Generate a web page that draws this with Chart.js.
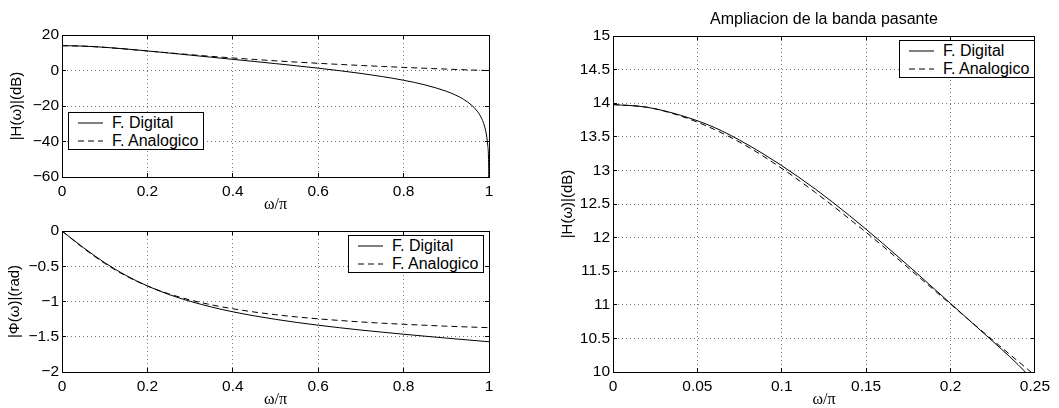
<!DOCTYPE html>
<html><head><meta charset="utf-8">
<script src="https://cdn.jsdelivr.net/npm/chart.js@4.4.0/dist/chart.umd.min.js"></script>
<style>
html,body{margin:0;padding:0;background:#fff;}
body{width:1059px;height:408px;position:relative;overflow:hidden;font-family:'Liberation Sans',Arial,sans-serif;}
canvas{position:absolute;}
.legend{position:absolute;background:#fff;border:1px solid #000;box-sizing:border-box;width:136px;height:38px;font-size:16px;color:#000;}
.legend .row{position:absolute;left:0;width:100%;height:18px;}
.legend svg{position:absolute;left:9px;}
.legend span{position:absolute;left:43px;top:0;line-height:18px;white-space:nowrap;}
</style></head>
<body>
<canvas id="c1" width="530" height="213" style="left:0;top:0;width:530px;height:213px"></canvas>
<canvas id="c2" width="530" height="195" style="left:0;top:213px;width:530px;height:195px"></canvas>
<canvas id="c3" width="529" height="408" style="left:530px;top:0;width:529px;height:408px"></canvas>
<div id="lg1" class="legend" style="left:68px;top:112px"></div>
<div id="lg2" class="legend" style="left:348px;top:235px"></div>
<div id="lg3" class="legend" style="left:899px;top:40px"></div>
<script>
// ---------- data ----------
const seriesNames = ['F. Digital', 'F. Analogico'];

// normalised frequency (omega / pi), full band
const omega = [0,0.05,0.1,0.15,0.2,0.25,0.3,0.35,0.4,0.45,0.5,0.55,0.6,0.65,0.7,0.75,0.8,0.85,0.9,0.95,1];
// denser grid used for the digital magnitude (it plunges near omega = pi)
const omegaDigMag = [0,0.05,0.1,0.15,0.2,0.25,0.3,0.35,0.4,0.45,0.5,0.55,0.6,0.65,0.7,0.75,0.8,0.85,0.9,0.92,0.94,0.96,0.97,0.98,0.99,0.995,0.997,0.999,1];
const digMagDB = [13.98,13.74,13.07,12.13,11.02,9.86,8.67,7.48,6.29,5.09,3.88,2.62,1.31,-0.10,-1.65,-3.41,-5.49,-8.10,-11.69,-13.65,-16.17,-19.70,-22.21,-25.73,-31.75,-37.77,-42.2,-51.75,-80];
const anaMagDB = [13.98,13.72,13.03,12.07,11.01,9.95,8.92,7.96,7.06,6.23,5.46,4.73,4.06,3.43,2.84,2.29,1.76,1.26,0.79,0.35,-0.08];

const digPhase = [0,-0.235,-0.449,-0.631,-0.779,-0.900,-0.997,-1.078,-1.146,-1.203,-1.253,-1.297,-1.336,-1.372,-1.405,-1.435,-1.464,-1.492,-1.519,-1.545,-1.571];
const anaPhase = [0,-0.243,-0.459,-0.638,-0.780,-0.891,-0.978,-1.047,-1.103,-1.149,-1.187,-1.219,-1.246,-1.269,-1.290,-1.308,-1.323,-1.337,-1.350,-1.361,-1.371];

// pass-band zoom
const omegaZoom = [0,0.02,0.04,0.06,0.08,0.1,0.12,0.14,0.16,0.18,0.2,0.22,0.24,0.25];
const digZoomDB = [13.98,13.94,13.82,13.64,13.38,13.07,12.72,12.33,11.91,11.47,11.02,10.57,10.11,9.85];
const anaZoomDB = [13.98,13.94,13.81,13.61,13.35,13.03,12.67,12.28,11.87,11.44,11.01,10.58,10.16,9.95];

// tick values
const xTicksFull = [0,0.2,0.4,0.6,0.8,1];
const xTicksZoom = [0,0.05,0.1,0.15,0.2,0.25];
const yTicksMag = [-60,-40,-20,0,20];
const yTicksPhase = [-2,-1.5,-1,-0.5,0];
const yTicksZoom = [10,10.5,11,11.5,12,12.5,13,13.5,14,14.5,15];

const xLabel = 'ω/π';
const yLabelMag = '|H(ω)|(dB)';
const yLabelPhase = '|Φ(ω)|(rad)';
const zoomTitle = 'Ampliacion de la banda pasante';

// ---------- helpers ----------
Chart.defaults.font.family = "'Liberation Sans', Arial, sans-serif";
Chart.defaults.color = '#000';

const pts = (xs, ys) => xs.map((x, i) => ({x: x, y: ys[i]}));
const minus = v => String(v).replace('-', '\u2212');
const GRID = '#777';

function gridColor(arr) {
  return ctx => {
    const v = ctx.tick ? ctx.tick.value : null;
    return (v === arr[0] || v === arr[arr.length - 1]) ? 'rgba(0,0,0,0)' : GRID;
  };
}

function makeScales(o) {
  return {
    x: {
      type: 'linear', position: 'bottom', min: o.xt[0], max: o.xt[o.xt.length - 1],
      afterBuildTicks: s => { s.ticks = o.xt.map(v => ({value: v})); },
      afterFit: s => { s.height = 36; },
      grid: {color: gridColor(o.xt), lineWidth: 1, drawTicks: true, tickLength: -4, tickColor: '#000', tickWidth: 1},
      border: {display: true, color: '#000', width: 1, dash: [1, 3]},
      ticks: {color: '#000', padding: 9, maxRotation: 0, autoSkip: false, font: {size: 15.5, lineHeight: 1.2}, callback: minus},
      title: {display: true, text: xLabel, color: '#000', font: {family: "'Liberation Serif', 'Times New Roman', serif", size: 16, lineHeight: 1}, padding: {top: 0, bottom: o.xtb}}
    },
    y: {
      type: 'linear', position: 'left', min: o.yt[0], max: o.yt[o.yt.length - 1],
      afterBuildTicks: s => { s.ticks = o.yt.map(v => ({value: v})); },
      afterFit: s => { s.width = o.yw; },
      grid: {color: gridColor(o.yt), lineWidth: 1, drawTicks: true, tickLength: -4, tickColor: '#000', tickWidth: 1},
      border: {display: true, color: '#000', width: 1, dash: [1, 3]},
      ticks: {color: '#000', padding: 7, autoSkip: false, font: {size: 15.5}, callback: minus},
      title: {display: true, text: o.ylabel, color: '#000', font: {size: 15, lineHeight: 1}, padding: {top: o.ytp, bottom: 0}}
    },
    xTop: {
      type: 'linear', position: 'top', min: o.xt[0], max: o.xt[o.xt.length - 1],
      afterBuildTicks: s => { s.ticks = o.xt.map(v => ({value: v})); },
      afterFit: s => { s.height = 0; },
      grid: {drawOnChartArea: false, drawTicks: true, tickLength: -4, tickColor: '#000', tickWidth: 1},
      border: {display: true, color: '#000', width: 1},
      ticks: {display: false}
    },
    yRight: {
      type: 'linear', position: 'right', min: o.yt[0], max: o.yt[o.yt.length - 1],
      afterBuildTicks: s => { s.ticks = o.yt.map(v => ({value: v})); },
      afterFit: s => { s.width = 0; },
      grid: {drawOnChartArea: false, drawTicks: true, tickLength: -4, tickColor: '#000', tickWidth: 1},
      border: {display: true, color: '#000', width: 1},
      ticks: {display: false}
    }
  };
}

function ds(label, data, dashed) {
  return {
    label: label, data: data, borderColor: '#000', backgroundColor: '#000',
    borderWidth: 1, borderDash: dashed ? [6, 4] : [], pointRadius: 0, fill: false,
    cubicInterpolationMode: 'monotone', xAxisID: 'x', yAxisID: 'y'
  };
}

function makeChart(id, datasets, o, titleOpts) {
  return new Chart(document.getElementById(id), {
    type: 'line',
    data: {datasets: datasets},
    options: {
      responsive: false, animation: false, events: [],
      layout: {padding: o.pad},
      scales: makeScales(o),
      plugins: {
        legend: {display: false}, tooltip: {enabled: false},
        title: titleOpts || {display: false}
      }
    }
  });
}

function htmlLegend(chart, elId) {
  const el = document.getElementById(elId);
  const centers = [10, 27.5];
  chart.data.datasets.forEach((d, i) => {
    const row = document.createElement('div');
    row.className = 'row';
    row.style.top = (centers[i] - 9) + 'px';
    const dash = (d.borderDash && d.borderDash.length) ? d.borderDash.join(',') : 'none';
    row.innerHTML = '<svg width="25" height="2" style="top:8px"><line x1="0" y1="1" x2="25" y2="1" stroke="#000" stroke-width="1" stroke-dasharray="' + dash + '"/></svg>';
    const sp = document.createElement('span');
    sp.textContent = d.label;
    row.appendChild(sp);
    el.appendChild(row);
  });
}

const c1 = makeChart('c1', [
  ds(seriesNames[0], pts(omegaDigMag, digMagDB), false),
  ds(seriesNames[1], pts(omega, anaMagDB), true)
], {xt: xTicksFull, yt: yTicksMag, yw: 62, ylabel: yLabelMag, ytp: 9.3, xtb: 0.5,
    pad: {top: 35, right: 41, bottom: 0, left: 0}});

const c2 = makeChart('c2', [
  ds(seriesNames[0], pts(omega, digPhase), false),
  ds(seriesNames[1], pts(omega, anaPhase), true)
], {xt: xTicksFull, yt: yTicksPhase, yw: 62, ylabel: yLabelPhase, ytp: 7.6, xtb: 0,
    pad: {top: 18, right: 41, bottom: 0, left: 0}});

const c3 = makeChart('c3', [
  ds(seriesNames[0], pts(omegaZoom, digZoomDB), false),
  ds(seriesNames[1], pts(omegaZoom, anaZoomDB), true)
], {xt: xTicksZoom, yt: yTicksZoom, yw: 83, ylabel: yLabelMag, ytp: 30.8, xtb: 0,
    pad: {top: 0, right: 18, bottom: 0, left: 0}},
  {display: true, text: zoomTitle, fullSize: false, color: '#000',
   font: {size: 16, weight: 'normal', lineHeight: 1}, padding: {top: 11.5, bottom: 8.5}});

htmlLegend(c1, 'lg1');
htmlLegend(c2, 'lg2');
htmlLegend(c3, 'lg3');
</script>
</body></html>
